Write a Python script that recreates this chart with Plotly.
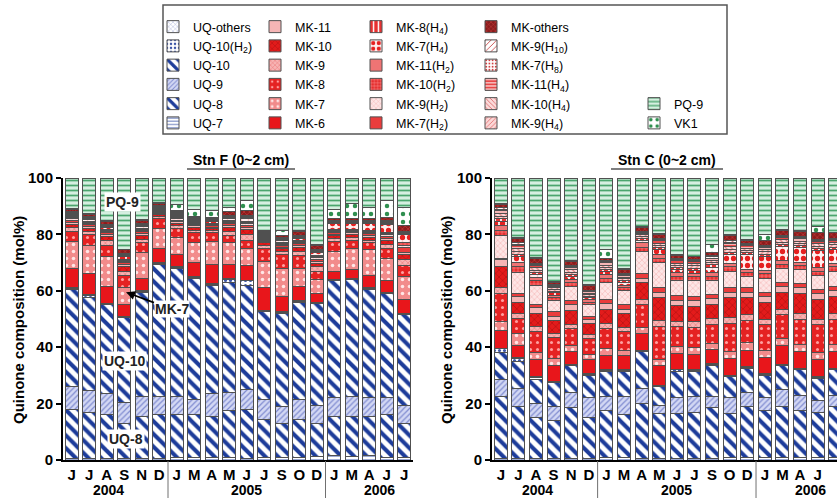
import plotly.graph_objects as go

# ---------------- data ----------------
months = ["J", "J", "A", "S", "N", "D", "J", "M", "A", "M", "J", "J", "S", "O", "D", "J", "M", "A", "J", "J"]
bar_years = ["2004"] * 6 + ["2005"] * 9 + ["2006"] * 5
yticks = [0, 20, 40, 60, 80, 100]

# Stn F (0~2 cm), mol%
F_UQ7 = [0.5, 0.5, 0.5, 0.5, 0.5, 0.5, 0.8, 0.8, 0.8, 0.8, 0.5, 0.8, 0.8, 0.8, 1.2, 1.5, 1.2, 1.5, 1.0, 1.0]
F_UQ8 = [17.5, 16.5, 15.5, 12.5, 15.0, 15.5, 15.2, 15.2, 14.7, 16.7, 17.5, 13.7, 12.2, 13.7, 11.8, 14.0, 14.3, 14.0, 15.0, 12.0]
F_UQ9 = [8.0, 7.5, 7.5, 7.5, 7.0, 6.5, 6.5, 5.5, 8.0, 6.5, 7.0, 7.0, 6.0, 7.0, 6.5, 6.5, 7.0, 6.5, 6.0, 6.5]
F_UQ10 = [34.5, 33.0, 31.5, 30.0, 37.0, 47.0, 45.5, 43.0, 38.5, 39.0, 37.0, 31.0, 33.0, 34.5, 36.0, 41.5, 41.5, 38.5, 37.0, 32.0]
F_UQ10H2 = [0.3, 1.0, 0.3, 0.3, 0.3, 0.3, 0.3, 0.3, 0.3, 1.0, 1.5, 0.3, 0.3, 0.3, 0.3, 0.3, 0.3, 0.3, 0.3, 0.3]
F_UQOTH = [0.2, 0.2, 0.2, 0.2, 0.2, 0.2, 0.2, 0.2, 0.2, 0.2, 0.2, 0.2, 0.2, 0.2, 0.2, 0.2, 0.2, 0.2, 0.2, 0.2]
F_MK6 = [7.0, 7.3, 6.0, 4.0, 4.5, 5.0, 4.5, 5.0, 7.0, 5.3, 5.3, 8.0, 5.5, 5.0, 3.0, 3.0, 3.0, 4.5, 4.0, 5.0]
F_MK7 = [9.5, 10.0, 10.5, 6.0, 9.0, 7.0, 6.0, 7.0, 8.0, 7.5, 6.0, 9.5, 10.0, 6.5, 5.0, 7.0, 7.5, 9.0, 8.0, 8.0]
F_MK8 = [3.5, 4.0, 4.0, 4.5, 3.5, 3.5, 3.0, 3.5, 3.0, 2.5, 3.0, 4.5, 5.0, 4.5, 3.0, 3.5, 3.0, 2.5, 3.5, 4.0]
F_MK9 = [1.3, 1.0, 1.8, 1.5, 1.3, 0.8, 1.0, 1.0, 0.8, 1.5, 1.8, 1.0, 1.0, 1.5, 1.5, 1.0, 1.0, 1.0, 1.5, 2.0]
F_MK10 = [1.3, 1.0, 1.3, 1.5, 1.3, 0.8, 1.0, 1.0, 0.8, 1.3, 1.8, 1.0, 1.0, 1.3, 1.3, 1.0, 1.0, 1.0, 1.5, 2.0]
F_MK11 = [0.7, 0.7, 0.7, 0.7, 0.7, 0.4, 0.5, 0.5, 0.5, 0.7, 0.7, 0.5, 0.5, 0.7, 0.7, 0.5, 0.5, 0.5, 0.7, 0.7]
F_MK7H2 = [0.7, 0.7, 0.7, 0.7, 0.7, 0.4, 0.5, 0.5, 0.5, 0.7, 1.0, 0.5, 0.5, 0.7, 0.7, 0.7, 0.7, 0.7, 0.7, 1.5]
F_MK9H2 = [0.5, 0.5, 0.5, 0.5, 0.5, 0.3, 0.5, 0.3, 0.3, 0.5, 0.5, 0.3, 0.5, 0.5, 0.5, 0.3, 0.3, 0.5, 0.5, 1.0]
F_MK10H2 = [0.4, 0.4, 0.4, 0.4, 0.4, 0.3, 0.4, 0.3, 0.3, 0.4, 0.4, 0.3, 0.4, 0.4, 0.4, 0.4, 0.2, 0.4, 0.4, 0.8]
F_MK11H2 = [0.3, 0.3, 0.3, 0.3, 0.3, 0.3, 0.3, 0.3, 0.3, 0.3, 0.3, 0.3, 0.3, 0.3, 0.3, 0.3, 0.2, 0.3, 0.3, 0.3]
F_MK7H4 = [0.6, 0.6, 0.6, 1.0, 0.6, 0.4, 0.6, 0.4, 0.4, 0.6, 1.0, 0.4, 0.6, 0.6, 1.2, 2.2, 2.0, 2.5, 3.0, 2.5]
F_MK8H4 = [0.3, 0.2, 0.3, 0.2, 0.3, 0.2, 0.3, 0.2, 0.3, 0.2, 0.3, 0.2, 0.3, 0.2, 0.3, 0.2, 0.3, 0.2, 0.3, 0.2]
F_MK9H4 = [0.2, 0.3, 0.2, 0.3, 0.2, 0.3, 0.2, 0.3, 0.2, 0.3, 0.2, 0.3, 0.2, 0.3, 0.2, 0.3, 0.2, 0.3, 0.2, 0.3]
F_MK10H4 = [0.2, 0.2, 0.2, 0.2, 0.2, 0.2, 0.2, 0.2, 0.2, 0.2, 0.2, 0.2, 0.2, 0.2, 0.2, 0.2, 0.2, 0.2, 0.2, 0.2]
F_MK11H4 = [0.2, 0.2, 0.2, 0.2, 0.2, 0.2, 0.2, 0.2, 0.2, 0.2, 0.2, 0.2, 0.2, 0.2, 0.2, 0.2, 0.2, 0.2, 0.2, 0.2]
F_MK7H8 = [0.15, 0.15, 0.15, 0.15, 0.15, 0.15, 0.15, 0.15, 0.15, 0.15, 0.15, 0.15, 0.15, 0.15, 0.15, 0.15, 0.15, 0.15, 0.15, 0.15]
F_MK9H10 = [0.15, 0.15, 0.15, 0.15, 0.15, 0.15, 0.15, 0.15, 0.15, 0.15, 0.15, 0.15, 0.15, 0.15, 0.15, 0.15, 0.15, 0.15, 0.15, 0.15]
F_MKOTH = [1.0, 0.6, 1.0, 1.2, 1.0, 0.6, 0.5, 0.5, 0.4, 1.3, 1.8, 0.5, 0.5, 1.3, 1.2, 0.4, 0.4, 0.4, 1.2, 2.0]
F_VK1 = [0.3, 0.3, 0.3, 0.3, 0.3, 0.3, 2.0, 2.5, 2.5, 1.5, 3.5, 0.3, 2.0, 0.3, 0.3, 3.2, 5.4, 4.2, 6.2, 6.5]
F_PQ9 = [10.7, 12.7, 15.2, 25.2, 14.7, 8.7, 9.5, 11.0, 11.5, 10.5, 8.0, 18.7, 18.5, 18.7, 23.7, 11.3, 9.1, 10.3, 7.8, 10.5]

# Stn C (0~2 cm), mol%
C_UQ7 = [0.5, 0.5, 0.5, 0.5, 0.5, 0.5, 1.0, 1.0, 0.5, 0.5, 0.5, 0.5, 0.5, 1.0, 1.0, 1.0, 1.0, 1.0, 1.0, 1.0]
C_UQ8 = [22.0, 18.5, 14.5, 13.5, 18.0, 14.5, 16.5, 15.0, 19.5, 16.0, 16.0, 16.5, 18.0, 15.5, 18.0, 16.5, 18.0, 16.5, 16.0, 18.0]
C_UQ9 = [6.0, 6.5, 5.0, 5.0, 5.5, 7.0, 5.0, 6.5, 5.5, 3.0, 5.5, 5.5, 4.0, 5.5, 5.0, 4.5, 6.0, 5.5, 4.0, 4.0]
C_UQ10 = [9.5, 9.5, 8.5, 8.5, 9.5, 8.0, 9.0, 9.0, 13.0, 6.5, 9.5, 9.0, 11.0, 7.5, 8.5, 8.0, 8.5, 9.0, 8.0, 9.0]
C_UQ10H2 = [1.5, 1.0, 0.8, 0.3, 0.3, 0.3, 0.3, 0.3, 0.3, 0.3, 0.5, 0.3, 0.5, 0.3, 0.3, 0.3, 0.3, 0.3, 0.3, 0.3]
C_UQOTH = [0.2, 0.2, 0.2, 0.2, 0.2, 0.2, 0.2, 0.2, 0.2, 0.2, 0.2, 0.2, 0.2, 0.2, 0.2, 0.2, 0.2, 0.2, 0.2, 0.2]
C_MK6 = [6.3, 4.5, 6.0, 5.5, 4.5, 5.0, 5.0, 5.0, 6.0, 7.0, 5.5, 5.5, 5.0, 6.0, 6.0, 6.0, 6.5, 6.0, 6.0, 6.0]
C_MK7 = [3.0, 4.0, 2.5, 2.5, 2.0, 2.0, 2.5, 2.0, 2.0, 2.0, 2.5, 2.5, 2.0, 2.5, 2.5, 2.5, 2.5, 2.5, 2.5, 2.5]
C_MK8 = [10.0, 5.5, 7.5, 7.5, 6.0, 5.5, 7.0, 6.5, 8.0, 12.0, 7.0, 7.0, 7.0, 10.0, 8.0, 9.0, 8.5, 9.0, 10.0, 9.0]
C_MK9 = [2.0, 1.8, 2.0, 1.5, 1.5, 1.5, 2.0, 1.5, 2.0, 2.0, 2.0, 2.0, 2.0, 2.0, 2.0, 2.0, 2.0, 2.0, 2.0, 2.0]
C_MK10 = [7.5, 4.0, 4.5, 4.5, 5.0, 4.0, 5.0, 5.0, 6.0, 8.0, 5.5, 5.5, 5.0, 7.0, 6.0, 6.0, 6.0, 7.0, 7.0, 6.0]
C_MK11 = [2.5, 2.0, 2.0, 1.5, 2.0, 1.5, 2.0, 1.5, 1.5, 2.0, 2.0, 2.0, 2.0, 2.0, 2.0, 2.0, 2.0, 2.0, 2.0, 2.0]
C_MK7H2 = [0.5, 1.0, 1.0, 1.5, 1.5, 1.0, 1.5, 1.5, 1.5, 1.5, 1.5, 1.5, 1.5, 1.5, 1.5, 1.5, 1.5, 1.5, 1.5, 1.5]
C_MK9H2 = [8.0, 7.5, 7.0, 4.0, 5.0, 4.0, 6.0, 5.0, 8.0, 9.0, 5.5, 5.5, 5.0, 6.0, 4.0, 5.0, 5.0, 5.0, 5.0, 5.5]
C_MK10H2 = [2.0, 2.0, 1.5, 1.0, 1.5, 1.0, 1.5, 1.0, 1.5, 1.5, 1.5, 1.5, 1.5, 1.5, 1.5, 1.5, 1.5, 1.5, 1.5, 1.5]
C_MK11H2 = [1.5, 1.5, 1.2, 1.0, 1.0, 1.0, 1.2, 1.0, 1.5, 1.5, 1.2, 1.2, 1.2, 1.2, 1.2, 1.2, 1.2, 1.2, 1.2, 1.2]
C_MK7H4 = [1.5, 2.0, 1.0, 0.8, 1.0, 0.6, 1.0, 1.0, 1.0, 1.5, 1.0, 1.0, 2.0, 3.0, 5.0, 5.0, 5.0, 5.0, 6.0, 5.0]
C_MK8H4 = [1.0, 1.0, 0.8, 0.6, 0.8, 0.5, 0.8, 0.6, 0.6, 0.8, 0.8, 0.8, 0.8, 1.0, 0.8, 0.8, 0.8, 0.8, 0.8, 0.8]
C_MK9H4 = [1.0, 1.0, 0.8, 0.6, 0.8, 0.5, 0.8, 0.6, 0.6, 0.8, 0.8, 0.8, 0.8, 1.0, 0.8, 0.8, 0.8, 0.8, 0.8, 0.8]
C_MK10H4 = [1.0, 1.0, 0.8, 0.6, 0.8, 0.5, 0.8, 0.6, 0.6, 0.8, 0.8, 0.8, 0.8, 1.0, 0.8, 0.8, 0.8, 0.8, 0.8, 0.8]
C_MK11H4 = [1.0, 1.0, 0.8, 0.6, 0.8, 0.5, 0.8, 0.6, 0.6, 0.8, 0.8, 0.8, 0.8, 1.0, 0.8, 0.8, 0.8, 0.8, 0.8, 0.8]
C_MK7H8 = [0.5, 0.5, 0.4, 0.3, 0.4, 0.3, 0.4, 0.3, 0.3, 0.4, 0.4, 0.4, 0.4, 0.5, 0.4, 0.4, 0.4, 0.4, 0.4, 0.4]
C_MK9H10 = [0.5, 0.5, 0.4, 0.3, 0.4, 0.3, 0.4, 0.3, 0.3, 0.4, 0.4, 0.4, 0.4, 0.5, 0.4, 0.4, 0.4, 0.4, 0.4, 0.4]
C_MKOTH = [1.0, 1.5, 1.8, 0.7, 1.5, 1.8, 0.8, 1.5, 1.5, 1.5, 1.1, 0.8, 1.1, 1.8, 1.3, 1.8, 1.8, 1.8, 2.3, 1.8]
C_VK1 = [0.3, 0.3, 0.3, 0.3, 0.3, 0.3, 3.0, 0.3, 0.3, 0.3, 0.3, 0.3, 3.0, 0.3, 0.3, 2.0, 0.3, 0.3, 2.3, 0.3]
C_PQ9 = [9.2, 21.2, 28.2, 36.7, 29.2, 37.7, 25.5, 32.2, 17.2, 19.7, 27.2, 27.7, 23.5, 20.2, 21.7, 20.0, 18.2, 18.7, 17.2, 19.2]

# series in stacking order (bottom -> top): name, Stn F values, Stn C values, legend column
SERIES = [
    ("UQ-7", F_UQ7, C_UQ7, 1),
    ("UQ-8", F_UQ8, C_UQ8, 1),
    ("UQ-9", F_UQ9, C_UQ9, 1),
    ("UQ-10", F_UQ10, C_UQ10, 1),
    ("UQ-10(H<sub>2</sub>)", F_UQ10H2, C_UQ10H2, 1),
    ("UQ-others", F_UQOTH, C_UQOTH, 1),
    ("MK-6", F_MK6, C_MK6, 2),
    ("MK-7", F_MK7, C_MK7, 2),
    ("MK-8", F_MK8, C_MK8, 2),
    ("MK-9", F_MK9, C_MK9, 2),
    ("MK-10", F_MK10, C_MK10, 2),
    ("MK-11", F_MK11, C_MK11, 2),
    ("MK-7(H<sub>2</sub>)", F_MK7H2, C_MK7H2, 3),
    ("MK-9(H<sub>2</sub>)", F_MK9H2, C_MK9H2, 3),
    ("MK-10(H<sub>2</sub>)", F_MK10H2, C_MK10H2, 3),
    ("MK-11(H<sub>2</sub>)", F_MK11H2, C_MK11H2, 3),
    ("MK-7(H<sub>4</sub>)", F_MK7H4, C_MK7H4, 3),
    ("MK-8(H<sub>4</sub>)", F_MK8H4, C_MK8H4, 3),
    ("MK-9(H<sub>4</sub>)", F_MK9H4, C_MK9H4, 4),
    ("MK-10(H<sub>4</sub>)", F_MK10H4, C_MK10H4, 4),
    ("MK-11(H<sub>4</sub>)", F_MK11H4, C_MK11H4, 4),
    ("MK-7(H<sub>8</sub>)", F_MK7H8, C_MK7H8, 4),
    ("MK-9(H<sub>10</sub>)", F_MK9H10, C_MK9H10, 4),
    ("MK-others", F_MKOTH, C_MKOTH, 4),
    ("VK1", F_VK1, C_VK1, 5),
    ("PQ-9", F_PQ9, C_PQ9, 5),
]

# ---------------- styles (pattern shape, background, foreground, size, solidity) ----------------
STYLE = {
    "UQ-7": ("-", "#ffffff", "#3b55a8", 4, 0.25),
    "UQ-8": ("\\", "#ffffff", "#1d3c9a", 9, 0.45),
    "UQ-9": ("/", "#d3d8f4", "#7f8bd0", 4, 0.3),
    "UQ-10": ("\\", "#ffffff", "#1d3c9a", 9, 0.45),
    "UQ-10(H<sub>2</sub>)": (".", "#ffffff", "#3b55a8", 5, 0.3),
    "UQ-others": ("x", "#ffffff", "#6070b8", 4, 0.15),
    "MK-6": ("", "#e8161b", "#e8161b", 8, 0.2),
    "MK-7": (".", "#f28b8b", "#ffe6e6", 7, 0.2),
    "MK-8": (".", "#e52222", "#ff9f9f", 7, 0.15),
    "MK-9": ("x", "#f7b3b3", "#e55a5a", 4, 0.2),
    "MK-10": ("x", "#e31b1b", "#a80f0f", 5, 0.2),
    "MK-11": ("", "#f5b5b5", "#f5b5b5", 8, 0.2),
    "MK-7(H<sub>2</sub>)": ("", "#ea3c3c", "#ea3c3c", 8, 0.2),
    "MK-9(H<sub>2</sub>)": ("x", "#fde6e6", "#f2a3a3", 4, 0.2),
    "MK-10(H<sub>2</sub>)": ("+", "#e53030", "#ffb0b0", 4, 0.2),
    "MK-11(H<sub>2</sub>)": ("", "#ef7474", "#ef7474", 8, 0.2),
    "MK-7(H<sub>4</sub>)": (".", "#fff0f0", "#e52020", 7, 0.45),
    "MK-8(H<sub>4</sub>)": ("|", "#e83030", "#ffffff", 6, 0.3),
    "MK-9(H<sub>4</sub>)": ("/", "#fbd6d6", "#e06a6a", 4, 0.25),
    "MK-10(H<sub>4</sub>)": ("\\", "#fbdada", "#d86060", 4, 0.25),
    "MK-11(H<sub>4</sub>)": ("-", "#e84848", "#ffffff", 4, 0.3),
    "MK-7(H<sub>8</sub>)": (".", "#ffffff", "#d04040", 4, 0.3),
    "MK-9(H<sub>10</sub>)": ("/", "#ffffff", "#c03030", 5, 0.2),
    "MK-others": ("x", "#8a1c1c", "#e04848", 4, 0.2),
    "VK1": (".", "#ffffff", "#2f8f4f", 8, 0.25),
    "PQ-9": ("-", "#d5efe0", "#4aa56d", 5, 0.35),
}

W, H = 837, 499
FONT = "Arial, Liberation Sans, sans-serif"
xs = list(range(len(months)))

fig = go.Figure()
for name, fvals, cvals, col in SERIES:
    shape, bg, fg, size, sol = STYLE[name]
    pattern = dict(shape=shape, bgcolor=bg, fgcolor=fg, size=size, solidity=sol, fillmode="replace")
    legend_id = "legend" if col == 1 else "legend%d" % col
    for vals, xa, ya, show in ((fvals, "x", "y", True), (cvals, "x2", "y2", False)):
        fig.add_trace(go.Bar(
            x=xs, y=vals, name=name, xaxis=xa, yaxis=ya,
            marker=dict(color=bg, pattern=pattern, line=dict(color="#505050", width=1)),
            showlegend=show, legend=legend_id,
        ))

ydom = [1 - 460 / H, 1 - 178 / H]
axis_common = dict(showline=True, linecolor="black", linewidth=2, showgrid=False, zeroline=False,
                   mirror=False, automargin=False)
fig.update_layout(
    width=W, height=H,
    margin=dict(l=0, r=0, t=0, b=0, autoexpand=False),
    barmode="stack", bargap=0.26,
    paper_bgcolor="white", plot_bgcolor="white",
    font=dict(family=FONT, color="black"),
    xaxis=dict(domain=[63 / W, 413 / W], range=[-0.5, 19.5], tickvals=xs, ticktext=months,
               tickfont=dict(size=15, weight="bold"), ticks="", anchor="y", **axis_common),
    yaxis=dict(domain=ydom, range=[0, 100], tickvals=yticks, ticks="outside", ticklen=5, tickwidth=2,
               tickcolor="black", tickfont=dict(size=15, weight="bold"), anchor="x", **axis_common),
    xaxis2=dict(domain=[492 / W, 1.0], range=[-0.5, 19.1], tickvals=xs, ticktext=months,
                tickfont=dict(size=15, weight="bold"), ticks="", anchor="y2", **axis_common),
    yaxis2=dict(domain=ydom, range=[0, 100], tickvals=yticks, ticks="outside", ticklen=5, tickwidth=2,
                tickcolor="black", tickfont=dict(size=15, weight="bold"), anchor="x2", **axis_common),
)

# legends: five columns
col_x = {1: 153, 2: 255, 3: 356, 4: 471, 5: 634}
row_h = 19.25
for col, px in col_x.items():
    key = "legend" if col == 1 else "legend%d" % col
    top = 12 if col != 5 else 12 + 4 * row_h
    fig.update_layout({key: dict(x=px / W, xanchor="left", y=1 - top / H, yanchor="top",
                                 orientation="v", traceorder="reversed", font=dict(size=12.5, family=FONT),
                                 bgcolor="rgba(255,255,255,0)", borderwidth=0, tracegroupgap=0, itemwidth=30)})

shapes = [dict(type="rect", xref="paper", yref="paper", x0=163 / W, x1=727 / W, y0=1 - 134 / H, y1=1 - 5 / H,
               line=dict(color="#555555", width=1.5), fillcolor="rgba(0,0,0,0)")]
annotations = []

# year groups -> labels and dividers
groups = []
for i, yr in enumerate(bar_years):
    if not groups or groups[-1][0] != yr:
        groups.append([yr, i, i])
    else:
        groups[-1][2] = i
year_shift = {"2004": -7, "2005": 0, "2006": 10}
for xa in ("x", "x2"):
    for yr, a, b in groups:
        annotations.append(dict(x=(a + b) / 2, y=1 - 490 / H, xref=xa, yref="paper", xanchor="center",
                                yanchor="middle", text=yr, showarrow=False, xshift=year_shift[yr],
                                font=dict(size=14, weight="bold")))
        if a > 0:
            shapes.append(dict(type="line", xref=xa, yref="paper", x0=a - 0.5, x1=a - 0.5,
                               y0=1 - 498 / H, y1=1 - 461 / H, line=dict(color="#707070", width=1)))

# panel titles (underlined)
for text, cx, half in (("Stn F (0~2 cm)", 241, 54), ("Stn C (0~2 cm)", 667, 56)):
    annotations.append(dict(x=cx / W, y=1 - 160 / H, xref="paper", yref="paper", xanchor="center",
                            yanchor="middle", text=text, showarrow=False, font=dict(size=14, weight="bold")))
    shapes.append(dict(type="line", xref="paper", yref="paper", x0=(cx - half) / W, x1=(cx + half) / W,
                       y0=1 - 169 / H, y1=1 - 169 / H, line=dict(color="black", width=1.2)))

# y axis titles
for px in (18, 446):
    annotations.append(dict(x=px / W, y=1 - 320 / H, xref="paper", yref="paper", xanchor="center",
                            yanchor="middle", text="Quinone composition (mol%)",
                            textangle=-90, showarrow=False, font=dict(size=15, weight="bold")))

# labels inside Stn F
for text, xv, yv in (("PQ-9", 2.9, 91.5), ("UQ-10", 3.0, 35.0), ("UQ-8", 3.1, 7.3)):
    annotations.append(dict(x=xv, y=yv, xref="x", yref="y", xanchor="center", yanchor="middle", text=text,
                            showarrow=False, bgcolor="white",
                            font=dict(size=14, weight="bold", color="#222222"), borderpad=1))
annotations.append(dict(x=3.1, y=59.5, xref="x", yref="y", ax=5.7, ay=53.5, axref="x", ayref="y",
                        text="MK-7", showarrow=True, arrowhead=2, arrowsize=1, arrowwidth=1.8, arrowcolor="black",
                        bgcolor="white", font=dict(size=14, weight="bold", color="#222222"), borderpad=0))

fig.update_layout(shapes=shapes, annotations=annotations)
fig.write_html("out.html", config={"displayModeBar": False},
               post_script="document.body.style.margin='0px';")
